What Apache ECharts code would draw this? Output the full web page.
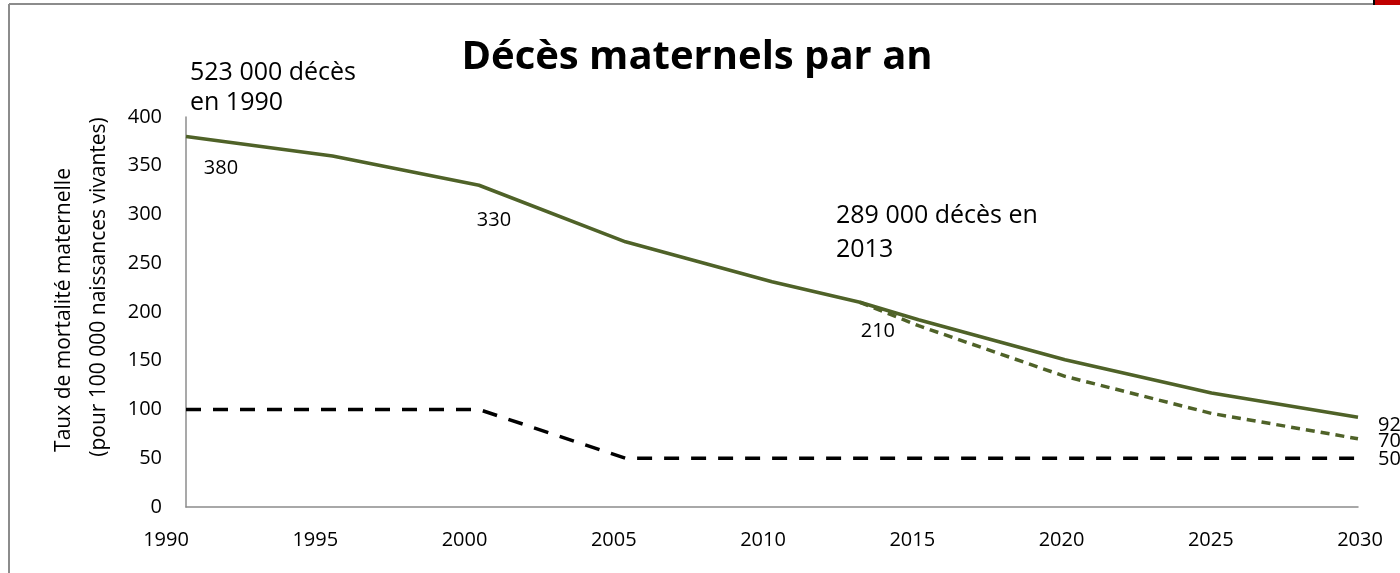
<!DOCTYPE html>
<html lang="fr">
<head>
  <meta charset="UTF-8">
  <script src="https://cdn.jsdelivr.net/npm/echarts@6/dist/echarts.min.js"></script>
  <title>Décès maternels par an</title>
  <style>
    * {margin: 0; padding: 0;}
    html, body { width: 100%; height: 100%; overflow: hidden; background: #fff; }
    #chart { width: 1400px; height: 573px; }
  </style>
</head>
<body>
  <div id="chart"></div>
<script>
// years on the x axis labels
var tickYears = ['1990', '1995', '2000', '2005', '2010', '2015', '2020', '2025', '2030']
// observed / estimated maternal mortality ratio
var mmrYears = [1990, 1995, 2000, 2005, 2010, 2013, 2015, 2020, 2025, 2030]
var mmrValues = [380, 360, 330, 272, 231, 210, 192, 151, 117, 92]
// accelerated projection from 2013
var projYears = [2013, 2015, 2020, 2025, 2030]
var projValues = [210, 186, 134, 96, 70]
// target line
var targetYears = [1990, 1995, 2000, 2005, 2010, 2015, 2020, 2025, 2030]
var targetValues = [100, 100, 100, 50, 50, 50, 50, 50, 50]
// points that carry a data label, with their offset
var labelled = {1990: [35, 32], 2000: [15, 35], 2013: [18, 29]}

var FONT = 'Open Sans'
var GREEN = '#4F6228'

function pairs (xs, ys) {
  return xs.map(function (x, i) { return [x, ys[i]] })
}

function endLabel (dy) {
  return {show: true, position: 'right', distance: 20, offset: [0, dy]}
}

var mmrData = pairs(mmrYears, mmrValues).map(function (p) {
  var item = {value: p}
  if (labelled[p[0]]) {
    item.label = {show: true, position: 'inside', offset: labelled[p[0]]}
  }
  if (p[0] === 2030) item.label = endLabel(8)
  return item
})
var projData = pairs(projYears, projValues).map(function (p) {
  var item = {value: p}
  if (p[0] === 2030) item.label = endLabel(3)
  return item
})
var targetData = pairs(targetYears, targetValues).map(function (p) {
  var item = {value: p}
  if (p[0] === 2030) item.label = endLabel(1)
  return item
})

var labelStyle = {
  show: false,
  color: '#000',
  fontFamily: FONT,
  fontSize: 20,
  formatter: function (p) { return p.value[1] }
}

var option = {
  animation: false,
  title: {
    text: 'Décès maternels par an',
    left: 692,
    top: 33,
    textAlign: 'center',
    textStyle: {fontFamily: FONT, fontWeight: 'bold', fontSize: 40, color: '#000'}
  },
  grid: [
    {left: 186, right: 42, top: 117, bottom: 66},
    {left: 166, right: 40, top: 117, bottom: 66}
  ],
  xAxis: [
    {
      type: 'value', gridIndex: 0, min: 1990, max: 2030,
      axisLine: {show: true, lineStyle: {color: '#8c8c8c', width: 1.5}},
      axisTick: {show: false},
      axisLabel: {show: false},
      splitLine: {show: false}
    },
    {
      type: 'category', gridIndex: 1, data: tickYears, boundaryGap: false,
      axisLine: {show: false},
      axisTick: {show: false},
      axisLabel: {margin: 23, color: '#000', fontFamily: FONT, fontSize: 20},
      splitLine: {show: false}
    }
  ],
  yAxis: [
    {
      type: 'value', gridIndex: 0, min: 0, max: 400, interval: 50,
      axisLine: {show: true, lineStyle: {color: '#8c8c8c', width: 1.5}},
      axisTick: {show: false},
      axisLabel: {margin: 24, color: '#000', fontFamily: FONT, fontSize: 20},
      splitLine: {show: false}
    },
    {
      type: 'value', gridIndex: 1, min: 0, max: 400, show: false
    }
  ],
  graphic: [
    {type: 'line', shape: {x1: 9, y1: 4, x2: 1373, y2: 4}, style: {stroke: '#8c8c8c', lineWidth: 2}},
    {type: 'line', shape: {x1: 9, y1: 4, x2: 9, y2: 573}, style: {stroke: '#8c8c8c', lineWidth: 2}},
    {type: 'rect', shape: {x: 1373, y: 0, width: 2, height: 5}, style: {fill: '#000'}},
    {type: 'rect', shape: {x: 1375, y: 0, width: 25, height: 5}, style: {fill: '#c00000'}},
    {
      type: 'text', x: 64, y: 310, rotation: Math.PI / 2,
      style: {text: 'Taux de mortalité maternelle', fontFamily: FONT, fontSize: 21, fill: '#000', align: 'center', verticalAlign: 'middle'}
    },
    {
      type: 'text', x: 99, y: 287, rotation: Math.PI / 2,
      style: {text: '(pour 100 000 naissances vivantes)', fontFamily: FONT, fontSize: 21, fill: '#000', align: 'center', verticalAlign: 'middle'}
    },
    {
      type: 'text', x: 190, y: 58,
      style: {text: '523 000 décès\nen 1990', fontFamily: FONT, fontSize: 25, lineHeight: 30, fill: '#000'}
    },
    {
      type: 'text', x: 836, y: 199,
      style: {text: '289 000 décès en\n2013', fontFamily: FONT, fontSize: 25, lineHeight: 34, fill: '#000'}
    }
  ],
  series: [
    {
      type: 'line', xAxisIndex: 0, yAxisIndex: 0,
      data: targetData, symbol: 'circle', symbolSize: 0,
      lineStyle: {color: '#000', width: 3.5, type: [15, 12]},
      label: labelStyle, z: 2
    },
    {
      type: 'line', xAxisIndex: 0, yAxisIndex: 0,
      data: projData, symbol: 'circle', symbolSize: 0,
      lineStyle: {color: GREEN, width: 3.5, type: [9, 6]},
      label: labelStyle, z: 3
    },
    {
      type: 'line', xAxisIndex: 0, yAxisIndex: 0,
      data: mmrData, symbol: 'circle', symbolSize: 0,
      lineStyle: {color: GREEN, width: 3.5},
      label: labelStyle, z: 4
    }
  ]
}

var chart = echarts.init(document.getElementById('chart'))
chart.setOption(option)
</script>
</body>
</html>
